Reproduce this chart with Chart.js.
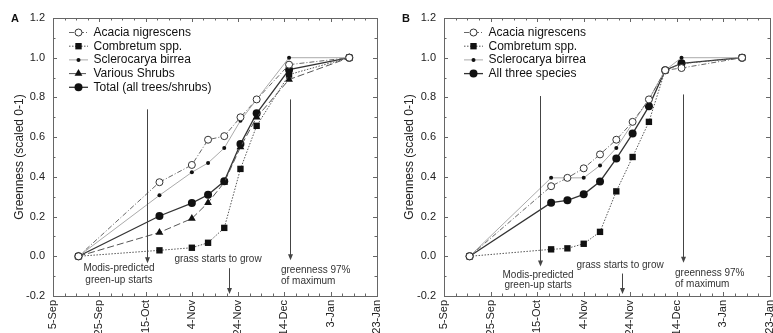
<!DOCTYPE html>
<html lang="en">
<head>
<meta charset="UTF-8">
<title>Greenness green-up</title>
<script src="https://cdn.jsdelivr.net/npm/chart.js@4.4.1/dist/chart.umd.min.js"></script>
<style>
body { margin: 0; background: #fff; overflow: hidden; width: 773px; height: 333px; position: relative; }
.panel { position: absolute; top: 0; height: 333px; }
#boxA { left: 0; width: 386px; }
#boxB { left: 386px; width: 400px; }
</style>
</head>
<body>
<div class="panel" id="boxA"><canvas id="chartA" width="386" height="333"></canvas></div>
<div class="panel" id="boxB"><canvas id="chartB" width="400" height="333"></canvas></div>

<script>
// x values are days after 5-Sep
const tickDays = [0, 20, 40, 60, 80, 100, 120, 140];
const tickLabels = ['5-Sep', '25-Sep', '15-Oct', '4-Nov', '24-Nov', '14-Dec', '3-Jan', '23-Jan'];

// panel A
const daysA = [11, 46, 60, 67, 74, 81, 88, 102, 128];
const acaciaA = [0, 0.373, 0.46, 0.587, 0.605, 0.70, 0.79, 0.965, 1.0];
const combretumA = [0, 0.03, 0.043, 0.068, 0.143, 0.44, 0.657, 0.915, 1.0];
const scleroA = [0, 0.307, 0.423, 0.47, 0.545, 0.683, 0.79, 1.0, 1.0];
const shrubsA = [0, 0.12, 0.19, 0.27, 0.372, 0.55, 0.70, 0.89, 1.0];
const totalA = [0, 0.203, 0.268, 0.31, 0.378, 0.565, 0.72, 0.94, 1.0];

// panel B
const daysB = [11, 46, 53, 60, 67, 74, 81, 88, 95, 102, 128];
const acaciaB = [0, 0.353, 0.395, 0.443, 0.513, 0.587, 0.677, 0.79, 0.937, 0.948, 1.0];
const combretumB = [0, 0.035, 0.04, 0.063, 0.123, 0.327, 0.50, 0.677, 0.937, 0.97, 1.0];
const scleroB = [0, 0.395, 0.395, 0.395, 0.457, 0.545, 0.67, 0.79, 0.937, 1.0, 1.0];
const allB = [0, 0.27, 0.282, 0.312, 0.377, 0.492, 0.618, 0.755, 0.937, 0.972, 1.0];

// annotations (x in days, y in greenness units)
const arrowsA = [{ x: 40.5, y1: 0.74, y2: -0.035 }, { x: 76, y1: -0.06, y2: -0.19 }, { x: 102.4, y1: 0.79, y2: -0.02 }];
const notesA = [
    { x: 28.5, y: -0.06, text: 'Modis-predicted', align: 'center' },
    { x: 28.5, y: -0.123, text: 'green-up starts', align: 'center' },
    { x: 71.3, y: -0.013, text: 'grass starts to grow', align: 'center' },
    { x: 98.5, y: -0.068, text: 'greenness 97%', align: 'left' },
    { x: 98.5, y: -0.127, text: 'of maximum', align: 'left' }
];
const arrowsB = [{ x: 41.2, y1: 0.807, y2: -0.052 }, { x: 76.3, y1: -0.087, y2: -0.19 }, { x: 102.8, y1: 0.815, y2: -0.032 }];
const notesB = [
    { x: 40.4, y: -0.095, text: 'Modis-predicted', align: 'center' },
    { x: 40.4, y: -0.148, text: 'green-up starts', align: 'center' },
    { x: 75.6, y: -0.045, text: 'grass starts to grow', align: 'center' },
    { x: 99.2, y: -0.087, text: 'greenness 97%', align: 'left' },
    { x: 99.2, y: -0.142, text: 'of maximum', align: 'left' }
];

const FONT = 'Arial, "Liberation Sans", sans-serif';

function pts(days, vals) {
    return days.map((d, i) => ({ x: d, y: vals[i] }));
}

// series styles
const styles = {
    acacia: { borderColor: '#666', borderWidth: 1, borderDash: [5, 2, 1, 2], pointStyle: 'circle', pointRadius: 3.5, pointBackgroundColor: '#fff', pointBorderColor: '#333', pointBorderWidth: 1 },
    combretum: { borderColor: '#555', borderWidth: 1, borderDash: [1.5, 1.5], pointStyle: 'rect', pointRadius: 4.5, pointBackgroundColor: '#111', pointBorderColor: '#111', pointBorderWidth: 0 },
    sclero: { borderColor: '#aaa', borderWidth: 1, borderDash: [], pointStyle: 'circle', pointRadius: 2, pointBackgroundColor: '#111', pointBorderColor: '#111', pointBorderWidth: 0 },
    shrubs: { borderColor: '#555', borderWidth: 1, borderDash: [7, 3], pointStyle: 'triangle', pointRadius: 4.5, pointBackgroundColor: '#111', pointBorderColor: '#111', pointBorderWidth: 0 },
    total: { borderColor: '#333', borderWidth: 1.3, borderDash: [], pointStyle: 'circle', pointRadius: 4, pointBackgroundColor: '#111', pointBorderColor: '#111', pointBorderWidth: 0 }
};

function ds(label, days, vals, style) {
    return Object.assign({ label: label, data: pts(days, vals), fill: false, tension: 0 }, styles[style]);
}

// frame, minor ticks, legend, arrows and notes
const extras = {
    id: 'extras',
    afterDraw(chart, args, opts) {
        const { ctx, chartArea: a, scales: { x, y } } = chart;
        ctx.save();
        ctx.strokeStyle = '#666';
        ctx.lineWidth = 1;
        ctx.strokeRect(Math.round(a.left) + 0.5, Math.round(a.top) + 0.5, Math.round(a.right - a.left), Math.round(a.bottom - a.top));
        ctx.beginPath();
        for (let d = 0; d <= 140; d += 5) {
            const px = Math.round(x.getPixelForValue(d)) + 0.5;
            const len = d % 20 === 0 ? 4 : 2.5;
            ctx.moveTo(px, a.top); ctx.lineTo(px, a.top + len);
            ctx.moveTo(px, a.bottom); ctx.lineTo(px, a.bottom - len);
        }
        for (let v = -2; v <= 12; v++) {
            const py = Math.round(y.getPixelForValue(v / 10)) + 0.5;
            const len = v % 2 === 0 ? 4 : 2.5;
            ctx.moveTo(a.left, py); ctx.lineTo(a.left + len, py);
            ctx.moveTo(a.right, py); ctx.lineTo(a.right - len, py);
        }
        ctx.stroke();

        // panel letter
        ctx.fillStyle = '#111';
        ctx.font = 'bold 11px ' + FONT;
        ctx.textAlign = 'center';
        ctx.textBaseline = 'middle';
        ctx.fillText(opts.letter, a.left - 38, a.top + 1);

        // arrows
        ctx.strokeStyle = '#444';
        ctx.fillStyle = '#444';
        opts.arrows.forEach(ar => {
            const px = Math.round(x.getPixelForValue(ar.x)) + 0.5;
            const p1 = y.getPixelForValue(ar.y1);
            const p2 = y.getPixelForValue(ar.y2);
            ctx.beginPath();
            ctx.moveTo(px, p1); ctx.lineTo(px, p2 - 5);
            ctx.stroke();
            ctx.beginPath();
            ctx.moveTo(px - 2.5, p2 - 6); ctx.lineTo(px + 2.5, p2 - 6); ctx.lineTo(px, p2);
            ctx.closePath();
            ctx.fill();
        });

        // notes
        ctx.fillStyle = '#333';
        ctx.font = '10px ' + FONT;
        opts.notes.forEach(n => {
            ctx.textAlign = n.align;
            ctx.fillText(n.text, x.getPixelForValue(n.x), y.getPixelForValue(n.y));
        });

        // legend: line sample with marker, then label
        ctx.font = '12px ' + FONT;
        ctx.textAlign = 'left';
        chart.data.datasets.forEach((d, i) => {
            const ly = a.top + 14.5 + i * 13.7;
            const x0 = a.left + opts.legendX;
            const x1 = x0 + 19;
            ctx.save();
            ctx.strokeStyle = d.borderColor;
            ctx.lineWidth = d.borderWidth;
            ctx.setLineDash(d.borderDash);
            ctx.beginPath();
            ctx.moveTo(x0, ly); ctx.lineTo(x1, ly);
            ctx.stroke();
            ctx.restore();
            ctx.fillStyle = d.pointBackgroundColor;
            ctx.strokeStyle = d.pointBorderColor;
            Chart.helpers.drawPoint(ctx, { pointStyle: d.pointStyle, radius: d.pointRadius, rotation: 0, borderWidth: d.pointBorderWidth }, (x0 + x1) / 2, ly);
            ctx.fillStyle = '#111';
            ctx.fillText(d.label, x1 + 5.5, ly);
        });
        ctx.restore();
    }
};

function makeOptions(yWidth, padRight, titlePad, letter, legendX, arrows, notes) {
    return {
        responsive: false,
        animation: false,
        layout: { padding: { top: 18, right: padRight, left: 0, bottom: 0 } },
        plugins: {
            legend: { display: false },
            tooltip: { enabled: false },
            extras: { letter: letter, legendX: legendX, arrows: arrows, notes: notes }
        },
        scales: {
            x: {
                type: 'linear',
                min: 0,
                max: 140,
                afterFit: s => { s.height = 37; s.paddingLeft = 0; s.paddingRight = 0; },
                afterBuildTicks: s => { s.ticks = tickDays.map(v => ({ value: v })); },
                grid: { display: false, drawTicks: false },
                border: { display: false },
                ticks: {
                    autoSkip: false,
                    minRotation: 90,
                    maxRotation: 90,
                    padding: 4,
                    color: '#222',
                    font: { family: FONT, size: 11 },
                    callback: v => tickLabels[tickDays.indexOf(v)]
                }
            },
            y: {
                min: -0.2,
                max: 1.2,
                afterFit: s => { s.width = yWidth; s.paddingTop = 0; s.paddingBottom = 0; },
                grid: { display: false, drawTicks: false },
                border: { display: false },
                ticks: {
                    stepSize: 0.2,
                    padding: 8,
                    color: '#222',
                    font: { family: FONT, size: 11 },
                    callback: v => (Math.abs(v) < 1e-9 ? 0 : v).toFixed(1)
                },
                title: {
                    display: true,
                    text: 'Greenness (scaled 0-1)',
                    color: '#222',
                    font: { family: FONT, size: 12 },
                    padding: { top: titlePad, bottom: 0 }
                }
            }
        }
    };
}

new Chart(document.getElementById('chartA'), {
    type: 'line',
    data: {
        datasets: [
            ds('Acacia nigrescens', daysA, acaciaA, 'acacia'),
            ds('Combretum spp.', daysA, combretumA, 'combretum'),
            ds('Sclerocarya birrea', daysA, scleroA, 'sclero'),
            ds('Various Shrubs', daysA, shrubsA, 'shrubs'),
            ds('Total (all trees/shrubs)', daysA, totalA, 'total')
        ]
    },
    options: makeOptions(53, 9, 12.8, 'A', 16, arrowsA, notesA),
    plugins: [extras]
});

new Chart(document.getElementById('chartB'), {
    type: 'line',
    data: {
        datasets: [
            ds('Acacia nigrescens', daysB, acaciaB, 'acacia'),
            ds('Combretum spp.', daysB, combretumB, 'combretum'),
            ds('Sclerocarya birrea', daysB, scleroB, 'sclero'),
            ds('All three species', daysB, allB, 'total')
        ]
    },
    options: makeOptions(58, 16, 16.8, 'B', 20, arrowsB, notesB),
    plugins: [extras]
});
</script>
</body>
</html>
